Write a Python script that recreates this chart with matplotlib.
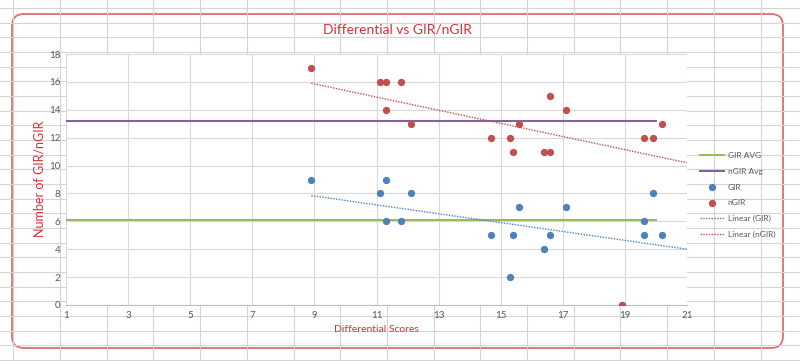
import numpy as np
import matplotlib.pyplot as plt
from matplotlib.patches import FancyBboxPatch

plt.rcParams['font.family'] = ['Lato', 'DejaVu Sans']

# data
gir_x = [8.9, 11.1, 11.3, 11.3, 11.8, 12.1, 14.7, 15.3, 15.4, 15.6, 16.4, 16.6, 17.1, 18.9, 19.6, 19.6, 19.9, 20.2]
gir_y = [9, 8, 9, 6, 6, 8, 5, 2, 5, 7, 4, 5, 7, 0, 6, 5, 8, 5]
ngir_x = [8.9, 11.1, 11.3, 11.3, 11.8, 12.1, 14.7, 15.3, 15.4, 15.6, 16.4, 16.6, 16.6, 17.1, 18.9, 19.6, 19.9, 20.2]
ngir_y = [17, 16, 16, 14, 16, 13, 12, 12, 11, 13, 11, 11, 15, 14, 0, 12, 12, 13]
gir_avg = 6.1
ngir_avg = 13.2
avg_x = [1, 20]
# linear trendlines as shown (start at first point, forecast to 21)
trend_x = [8.9, 21]
gir_trend = [7.85, 4.0]
ngir_trend = [15.9, 10.2]

W, H = 800, 361
red = '#d9303a'
fig = plt.figure(figsize=(W / 100, H / 100), dpi=100)

# spreadsheet background
bg = fig.add_axes([0, 0, 1, 1])
bg.set_xlim(0, W)
bg.set_ylim(H, 0)
bg.axis('off')
for xv in np.arange(13.3, W, 46.7):
    bg.axvline(xv, color='#d4d4d4', lw=0.8)
for yv in np.arange(8, H, 14.67):
    bg.axhline(yv, color='#d4d4d4', lw=0.8)
box = FancyBboxPatch((12, 14), 771, 334, boxstyle='round,pad=0,rounding_size=12',
                     facecolor='white', edgecolor='#e06c70', lw=1.3)
bg.add_patch(box)

ax = fig.add_axes([66 / W, 1 - 305 / H, 621 / W, 251 / H])
ax.set_xlim(1, 21)
ax.set_ylim(0, 18)
ax.set_xticks(np.arange(1, 22, 2))
ax.set_yticks(np.arange(0, 19, 2))
ax.grid(True, color='#d9d9d9', lw=0.8)
ax.set_axisbelow(True)
for s in ['top', 'right', 'left']:
    ax.spines[s].set_visible(False)
ax.spines['bottom'].set_color('#bfbfbf')
ax.tick_params(length=0, labelsize=7, colors='#595959', pad=4)

ax.plot(avg_x, [gir_avg, gir_avg], color='#9bbb59', lw=1.5, label='GIR AVG')
ax.plot(avg_x, [ngir_avg, ngir_avg], color='#8064a2', lw=1.5, label='nGIR Avg')
ax.scatter(gir_x, gir_y, s=18, color='#4f81bd', label='GIR', zorder=3)
ax.scatter(ngir_x, ngir_y, s=18, color='#c0504d', label='nGIR', zorder=3)
ax.plot(trend_x, gir_trend, color='#4f81bd', lw=1, ls=(0, (1, 1)), label='Linear (GIR)')
ax.plot(trend_x, ngir_trend, color='#c0504d', lw=1, ls=(0, (1, 1)), label='Linear (nGIR)')

fig.text(397 / W, 1 - 30 / H, 'Differential vs GIR/nGIR', color=red, fontsize=10,
         ha='center', va='center')
fig.text(376 / W, 1 - 329 / H, 'Differential Scores', color=red, fontsize=7.5,
         ha='center', va='center')
fig.text(40 / W, 1 - 179 / H, 'Number of GIR/nGIR', color=red, fontsize=9,
         rotation=90, ha='center', va='center')

ax.legend(loc='upper left', bbox_to_anchor=(700 / W, 1 - 152 / H),
          bbox_transform=fig.transFigure, frameon=False, borderpad=0,
          borderaxespad=0, fontsize=6, labelcolor='#595959', handlelength=2.9,
          handletextpad=0.4, labelspacing=1.05)

fig.savefig('out.png', dpi=100)
